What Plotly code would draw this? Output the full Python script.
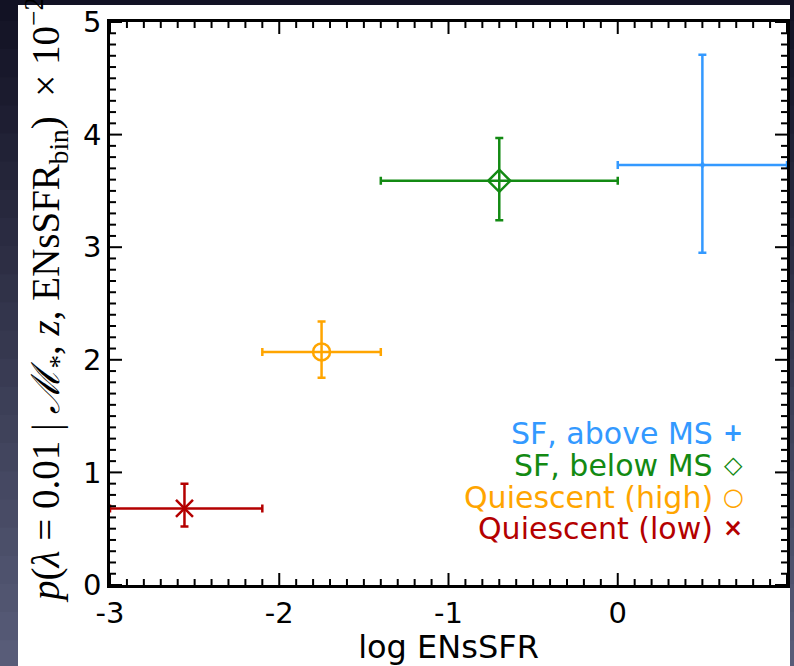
import plotly.graph_objects as go

# ---- data ----
categories = ["SF, above MS", "SF, below MS", "Quiescent (high)", "Quiescent (low)"]
x_center = [0.50, -0.70, -1.75, -2.56]
x_lo = [0.0, -1.4, -2.1, -3.0]
x_hi = [1.0, 0.0, -1.4, -2.1]
y_val = [3.73, 3.59, 2.07, 0.68]
y_err_plus = [0.98, 0.38, 0.27, 0.22]
y_err_minus = [0.78, 0.35, 0.23, 0.16]
colors = ["#3399ff", "#138a13", "#ffa500", "#b40000"]
symbols = ["cross-thin-open", "diamond-open", "circle-open", "x-thin-open"]
legend_glyphs = ["+", "◇", "○", "×"]
x_ticktext = {"\u22123": "-3", "\u22122": "-2", "\u22121": "-1"}
x_range = [-3, 1]
y_range = [0, 5]

fig = go.Figure()

for i, name in enumerate(categories):
    fig.add_trace(go.Scatter(
        x=[x_center[i]], y=[y_val[i]],
        mode="markers",
        name=name,
        marker=dict(symbol=symbols[i], size=17 if i != 0 else 4,
                    color=colors[i], line=dict(color=colors[i], width=2.5)),
        error_x=dict(type="data", symmetric=False,
                     array=[x_hi[i] - x_center[i]],
                     arrayminus=[x_center[i] - x_lo[i]],
                     color=colors[i], thickness=2.5, width=4),
        error_y=dict(type="data", symmetric=False,
                     array=[y_err_plus[i]], arrayminus=[y_err_minus[i]],
                     color=colors[i], thickness=2.5, width=4),
        showlegend=False,
    ))

# background: dark slide strips around a white panel (outside the plot area only)
shapes = []
top_rgb = (18, 18, 36)
bot_rgb = (88, 92, 120)
left_x1 = (18 - 110) / 677
right_x0 = (790 - 110) / 677
top_y0 = (585 - 5) / 563
n = 24
for k in range(n):
    t = k / (n - 1)
    c = tuple(int(top_rgb[j] + (bot_rgb[j] - top_rgb[j]) * t) for j in range(3))
    y1 = 1.05 - (1.05 + 0.15) * k / n
    y0 = 1.05 - (1.05 + 0.15) * (k + 1) / n
    for (xa, xb) in [(-0.2, left_x1), (right_x0, 1.05)]:
        shapes.append(dict(type="rect", xref="paper", yref="paper",
                           x0=xa, x1=xb, y0=y0 - 0.002, y1=y1 + 0.002,
                           fillcolor="rgb(%d,%d,%d)" % c, line=dict(width=0),
                           layer="above"))
shapes.append(dict(type="rect", xref="paper", yref="paper",
                   x0=-0.2, x1=1.05, y0=top_y0, y1=1.1,
                   fillcolor="rgb(%d,%d,%d)" % top_rgb, line=dict(width=0), layer="above"))

# tick marks on all four sides (minor every 0.1, major every 1), inward
plot_w, plot_h = 677, 563
minor_len, major_len = 6, 12
tick_line = dict(color="black", width=2)
for k in range(int(x_range[0] * 10), int(x_range[1] * 10) + 1):
    v = k / 10
    L = major_len if k % 10 == 0 else minor_len
    for (a, b) in [(0, L / plot_h), (1 - L / plot_h, 1)]:
        shapes.append(dict(type="line", xref="x", yref="paper", x0=v, x1=v, y0=a, y1=b,
                           line=tick_line, layer="above"))
for k in range(int(y_range[0] * 10), int(y_range[1] * 10) + 1):
    v = k / 10
    L = major_len if k % 10 == 0 else minor_len
    for (a, b) in [(0, L / plot_w), (1 - L / plot_w, 1)]:
        shapes.append(dict(type="line", xref="paper", yref="y", x0=a, x1=b, y0=v, y1=v,
                           line=tick_line, layer="above"))

annotations = []
leg_y = [433, 465, 497, 528]
for i, name in enumerate(categories):
    yp = (585 - leg_y[i]) / 563
    annotations.append(dict(xref="paper", yref="paper", x=(715 - 110) / 677, y=yp,
                            xanchor="right", yanchor="middle", showarrow=False,
                            text=name, font=dict(family="DejaVu Sans", size=30, color=colors[i])))
    annotations.append(dict(xref="paper", yref="paper", x=(733 - 110) / 677, y=yp,
                            xanchor="center", yanchor="middle", showarrow=False,
                            text="<b>%s</b>" % legend_glyphs[i],
                            font=dict(family="DejaVu Sans", size=24, color=colors[i])))

annotations.append(dict(
    xref="paper", yref="paper", x=(46 - 110) / 677, y=(585 - 300) / 563,
    xanchor="center", yanchor="middle", showarrow=False, textangle=-90,
    text="<i>p</i>(<i>λ</i> = 0.01 | <i>ℳ</i><sub>*</sub>, <i>z</i>, ENsSFR<sub>bin</sub>)  × 10<sup>−2</sup>",
    font=dict(family="Liberation Serif", size=39, color="black")))

axis_common = dict(
    showline=True, linecolor="black", linewidth=2.5, mirror=True,
    ticks="", showgrid=False, zeroline=False, tick0=0, dtick=1,
    automargin=False,
    tickfont=dict(family="DejaVu Sans", size=29, color="black"),
)

fig.update_xaxes(range=x_range, labelalias=x_ticktext,
                 title=dict(text="log ENsSFR", font=dict(family="DejaVu Sans", size=32, color="black"), standoff=4),
                 **axis_common)
fig.update_yaxes(range=y_range, **axis_common)

fig.update_layout(
    width=794, height=666,
    margin=dict(l=110, r=7, t=22, b=81),
    paper_bgcolor="white", plot_bgcolor="white",
    shapes=shapes, annotations=annotations, showlegend=False,
)

fig.write_html("out.html")
